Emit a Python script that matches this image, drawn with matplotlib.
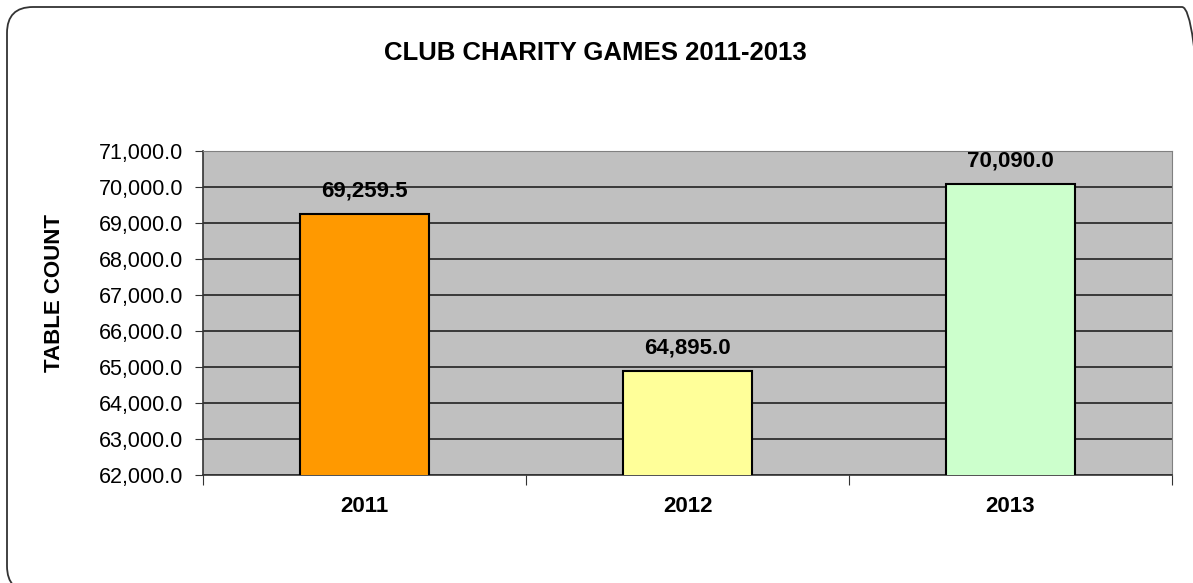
import matplotlib.pyplot as plt
from matplotlib.patches import FancyBboxPatch
from matplotlib.ticker import FuncFormatter, MultipleLocator

plt.rcParams["font.family"] = ["Liberation Sans", "DejaVu Sans"]

years = ["2011", "2012", "2013"]
counts = [69259.5, 64895.0, 70090.0]
colors = ["#FF9900", "#FFFF99", "#CCFFCC"]

W, H = 1193, 583
fig = plt.figure(figsize=(W / 100, H / 100), dpi=100)

# rounded chart frame (runs past the right/bottom edge of the image)
frame = FancyBboxPatch((7 / W, -9 / H), 1201 / W, (H - 7 + 9) / H,
                       transform=fig.transFigure,
                       boxstyle=f"round,pad=0,rounding_size={26 / W}",
                       mutation_aspect=W / H,
                       facecolor="none", edgecolor="#333333", linewidth=1.3)
fig.add_artist(frame)

ax = fig.add_axes([203 / W, 1 - 475 / H, 969 / W, 324 / H])
ax.set_facecolor("#C0C0C0")

x = list(range(len(years)))
ax.bar(x, counts, width=0.4, color=colors, edgecolor="black", linewidth=1.5, zorder=3)

for xi, v in zip(x, counts):
    ax.annotate(f"{v:,.1f}", (xi, v), xytext=(0, 9), textcoords="offset points",
                ha="center", va="bottom", fontsize=16, fontweight="bold", zorder=4)

ax.set_xlim(-0.5, 2.5)
ax.set_ylim(62000, 71000)
ax.yaxis.set_major_locator(MultipleLocator(1000))
ax.yaxis.set_major_formatter(FuncFormatter(lambda v, p: f"{v:,.1f}"))
ax.grid(axis="y", color="#222222", linewidth=1.2, zorder=1)

ax.set_xticks([-0.5, 0.5, 1.5, 2.5])
ax.set_xticklabels([])
ax.set_xticks(x, minor=True)
ax.set_xticklabels(years, minor=True, fontsize=16, fontweight="bold")
ax.tick_params(axis="x", which="minor", length=0, pad=15)
ax.tick_params(axis="x", which="major", length=7, color="#333333")
ax.tick_params(axis="y", length=6, labelsize=15.5, pad=8, color="#333333")

for side in ["top", "right"]:
    ax.spines[side].set_color("#808080")
for side in ["left", "bottom"]:
    ax.spines[side].set_color("#333333")
    ax.spines[side].set_linewidth(1.2)

fig.text(55 / W, 1 - 293 / H, "TABLE COUNT", rotation=90,
         ha="center", va="center", fontsize=16, fontweight="bold")
fig.text(595 / W, 1 - 53 / H, "CLUB CHARITY GAMES 2011-2013",
         ha="center", va="center", fontsize=18.5, fontweight="bold")

fig.savefig("out.png", dpi=100)
